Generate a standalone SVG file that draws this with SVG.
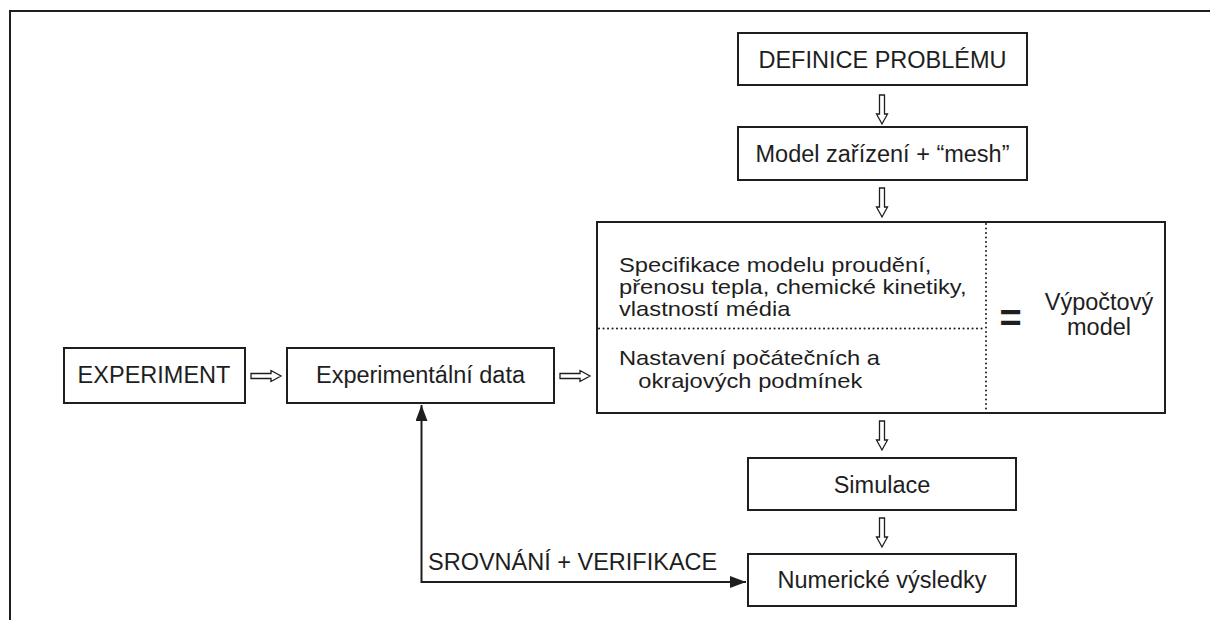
<svg xmlns="http://www.w3.org/2000/svg" width="1210" height="620" viewBox="0 0 1210 620">
<defs>
<style>
.box{fill:#fff;stroke:#1e1e1e;stroke-width:2}
.t{font-family:"Liberation Sans",Arial,sans-serif;font-size:23.5px;fill:#1e1e1e}
.s{font-family:"Liberation Sans",Arial,sans-serif;font-size:21px;fill:#1e1e1e}
.m{text-anchor:middle}
.harrow{fill:#fff;stroke:#1e1e1e;stroke-width:1.3;stroke-linejoin:miter}
.dot{stroke:#1e1e1e;stroke-width:2;stroke-linecap:round;stroke-dasharray:0.1 4.4;fill:none}
.line{stroke:#1e1e1e;stroke-width:2;fill:none}
</style>
<path id="vdown" d="M-2.5,0 L2.5,0 L2.5,19 L5.5,19 L0,29 L-5.5,19 L-2.5,19 Z"/>
<path id="hright" d="M0,-2.5 L20,-2.5 L20,-5.5 L30,0 L20,5.5 L20,2.5 L0,2.5 Z"/>
<marker id="ah" viewBox="0 0 16 12" refX="16" refY="6" markerWidth="16" markerHeight="12" markerUnits="userSpaceOnUse" orient="auto-start-reverse">
<path d="M0,0 L16,6 L0,12 Z" fill="#1e1e1e"/>
</marker>
</defs>
<rect width="1210" height="620" fill="#fff"/>
<g id="frame"><path d="M10,620 L10,11 L1210,11" class="line" stroke-width="2.5"/></g>

<g id="definice"><rect class="box" x="738" y="33" width="289" height="52"/><text class="t m" x="882.5" y="67.5">DEFINICE PROBLÉMU</text></g>
<g id="model-zarizeni"><rect class="box" x="738" y="127" width="289" height="53"/><text class="t m" x="882.5" y="161.5">Model zařízení + “mesh”</text></g>
<g id="vypoctovy-model">
<rect class="box" x="597" y="222" width="568" height="191"/>
<line class="dot" x1="986" y1="224" x2="986" y2="412"/>
<line class="dot" x1="599" y1="328.5" x2="986" y2="328.5"/>
<g transform="translate(619,0) scale(1.13,1)">
<text class="s" x="0" y="272">Specifikace modelu proudění,</text>
<text class="s" x="0" y="294">přenosu tepla, chemické kinetiky,</text>
<text class="s" x="0" y="316">vlastností média</text>
<text class="s" x="0" y="365.5">Nastavení počátečních a</text>
<text class="s" x="17" y="388.5">okrajových podmínek</text>
</g>
<text x="1010.5" y="331" style="font-family:'Liberation Sans',Arial,sans-serif;font-size:38px;font-weight:bold;fill:#1e1e1e;text-anchor:middle">=</text>
<text class="t m" x="1099" y="310">Výpočtový</text>
<text class="t m" x="1099" y="335">model</text>
</g>
<g id="simulace"><rect class="box" x="748" y="458" width="268" height="52"/><text class="t m" x="882" y="492.5">Simulace</text></g>
<g id="numericke"><rect class="box" x="748" y="554" width="268" height="52"/><text class="t m" x="882" y="587.5">Numerické výsledky</text></g>
<g id="experiment"><rect class="box" x="64" y="348" width="181" height="55"/><text class="t m" x="154" y="383">EXPERIMENT</text></g>
<g id="exp-data"><rect class="box" x="287" y="348" width="267" height="55"/><text class="t m" x="420.5" y="383">Experimentální data</text></g>

<g id="connectors">
<use href="#vdown" class="harrow" x="882" y="95"/>
<use href="#vdown" class="harrow" x="882" y="188"/>
<use href="#vdown" class="harrow" x="882" y="421"/>
<use href="#vdown" class="harrow" x="882" y="518"/>
<use href="#hright" class="harrow" x="251" y="376"/>
<use href="#hright" class="harrow" x="560" y="376"/>
<path class="line" d="M421.5,405 L421.5,582 L746,582" stroke-width="1.8" marker-start="url(#ah)" marker-end="url(#ah)"/>
<text class="t" x="428" y="570">SROVNÁNÍ + VERIFIKACE</text>
</g>
</svg>
